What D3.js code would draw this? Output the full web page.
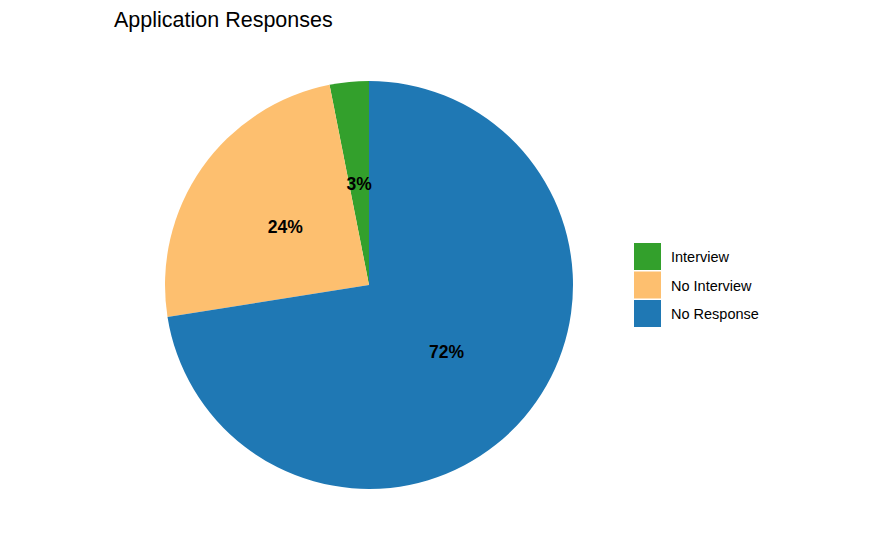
<!DOCTYPE html>
<html>
<head>
<meta charset="utf-8">
<script src="https://cdn.jsdelivr.net/npm/d3@7"></script>
<style>
  body { margin: 0; background: #fff; }
  svg { font-family: "Liberation Sans", Arial, sans-serif; }
</style>
</head>
<body>
<div id="chart"></div>
<script>
// Data (share of applications, %)
const categories = ["Interview", "No Interview", "No Response"];
const shares = [3.1, 24.4, 72.5];
const labels = ["3%", "24%", "72%"];
const colors = ["#33a02c", "#fdbf6f", "#1f78b4"];

const width = 875, height = 540;
const cx = 369, cy = 285, radius = 204;

const svg = d3.select("#chart")
    .append("svg")
    .attr("width", width)
    .attr("height", height);

svg.append("text")
    .attr("x", 114)
    .attr("y", 27)
    .attr("font-size", 21.5)
    .attr("fill", "#000")
    .text("Application Responses");

const color = d3.scaleOrdinal().domain(categories).range(colors);

const slices = categories.map((c, i) => ({ cat: c, value: shares[i], label: labels[i] }));

// clockwise from 12 o'clock: No Response, No Interview, Interview
const pie = d3.pie()
    .value(d => d.value)
    .sort(null)
    .startAngle(2 * Math.PI)
    .endAngle(0);

const arcs = pie(slices);
const arc = d3.arc().innerRadius(0).outerRadius(radius);
const labelArc = d3.arc().innerRadius(radius / 2).outerRadius(radius / 2);

const g = svg.append("g").attr("transform", `translate(${cx},${cy})`);

g.selectAll("path")
    .data(arcs)
    .enter()
    .append("path")
    .attr("d", arc)
    .attr("fill", d => color(d.data.cat));

g.selectAll("text")
    .data(arcs)
    .enter()
    .append("text")
    .attr("transform", d => `translate(${labelArc.centroid(d)})`)
    .attr("text-anchor", "middle")
    .attr("dy", "0.36em")
    .attr("font-size", 17.5)
    .attr("font-weight", "bold")
    .attr("fill", "#000")
    .text(d => d.data.label);

// Legend
const legend = svg.append("g").attr("transform", "translate(634,243)");
const key = 28.5;

const item = legend.selectAll("g")
    .data(categories)
    .enter()
    .append("g")
    .attr("transform", (d, i) => `translate(0,${i * key})`);

item.append("rect")
    .attr("width", 27)
    .attr("height", 27)
    .attr("fill", d => color(d));

item.append("text")
    .attr("x", 37)
    .attr("y", 14)
    .attr("dy", "0.35em")
    .attr("font-size", 14.5)
    .attr("fill", "#000")
    .text(d => d);
</script>
</body>
</html>
